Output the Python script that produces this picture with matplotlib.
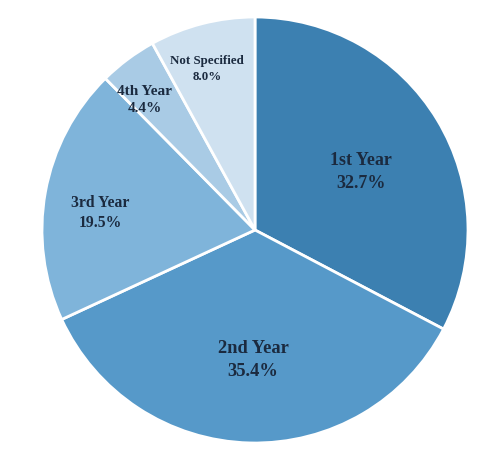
import numpy as np
import matplotlib.pyplot as plt

labels = ["1st Year", "2nd Year", "3rd Year", "4th Year", "Not Specified"]
shares = [32.7, 35.4, 19.5, 4.4, 8.0]
colors = ["#3c80b1", "#5699c9", "#7fb4da", "#a9cbe5", "#cfe1f0"]

# label placement: radial distance and angular nudge (deg) from wedge middle
label_r = [0.567, 0.61, 0.732, 0.80, 0.789]
label_dang = [-2.4, 0.6, 4.0, 3.5, 2.2]
label_size = [13, 13.3, 11.3, 11, 9.3]


def main():
    plt.rcParams["font.family"] = ["Liberation Serif", "DejaVu Serif"]
    fig = plt.figure(figsize=(4.83, 4.62), dpi=100)
    ax = fig.add_axes([42 / 483, 19 / 462, 426 / 483, 426 / 462])
    wedges, _ = ax.pie(shares, colors=colors, startangle=90, counterclock=False,
                       radius=1.0, wedgeprops=dict(edgecolor="white", linewidth=2))
    ax.set_xlim(-1, 1)
    ax.set_ylim(-1, 1)
    ax.set_aspect("equal")

    for w, lab, val, r, da, fs in zip(wedges, labels, shares, label_r, label_dang, label_size):
        ang = np.deg2rad((w.theta1 + w.theta2) / 2 + da)
        ax.text(r * np.cos(ang), r * np.sin(ang), f"{lab}\n{val:.1f}%",
                ha="center", va="center", fontsize=fs, fontweight="bold",
                color="#1b2a3f", linespacing=1.4)

    fig.savefig("out.png", dpi=100)


if __name__ == "__main__":
    main()
